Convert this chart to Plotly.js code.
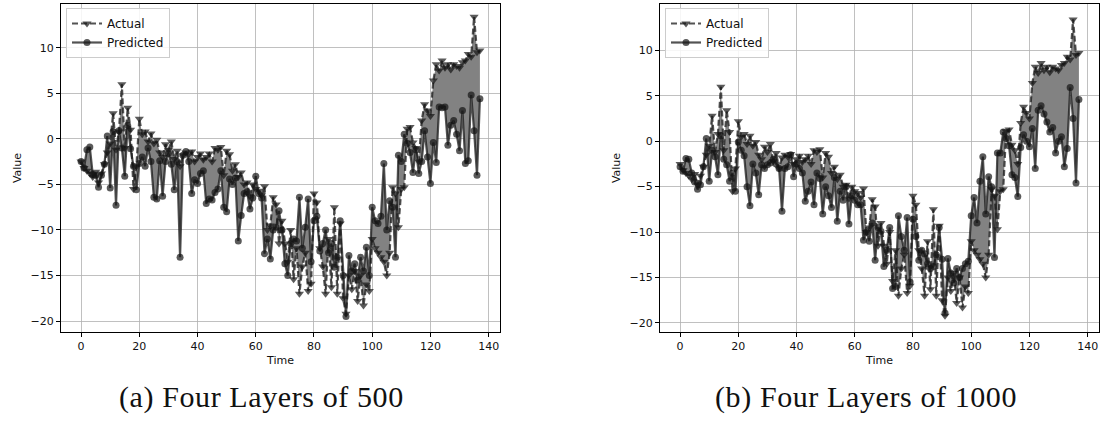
<!DOCTYPE html>
<html>
<head>
<meta charset="utf-8">
<script src="https://cdn.plot.ly/plotly-3.0.1.min.js"></script>
<style>
  html, body { margin: 0; padding: 0; background: #fff; }
  #chart { width: 1104px; height: 431px; }
  .annotation-text { letter-spacing: 0.6px; }
</style>
</head>
<body>
<div id="chart"></div>
<script>
// ---- data ----
const time = Array.from({length: 138}, (_, i) => i);

const actual = [
  -2.5, -3.2, -3.5, -3.8, -4.2, -3.6, -4.8, -3.8, -2.8, -1.5,
  -0.5, 2.8, -1.2, 0.8, 6.0, -1.0, 3.4, 1.0, -5.5, -3.0,
  2.2, 0.5, 0.8, -0.3, 0.6, -0.5, -0.1, -1.5, -2.0, -0.6,
  -1.2, -0.3, -2.2, -1.3, -3.0, -1.8, -1.5, -1.7, -1.4, -2.5,
  -2.0, -1.6, -2.3, -2.0, -1.6, -2.5, -1.0, -1.2, -0.9, -4.0,
  -1.3, -1.7, -3.5, -2.8, -4.2, -3.7, -5.0, -4.8, -6.3, -5.0,
  -5.5, -5.7, -6.2, -5.2, -10.0, -9.5, -6.4, -7.2, -11.5, -9.0,
  -11.5, -13.5, -10.0, -15.4, -12.0, -17.0, -14.0, -12.5, -16.7, -15.9,
  -6.0, -7.0, -12.0, -14.0, -17.0, -11.0, -16.3, -7.5, -17.0, -9.3,
  -17.5, -19.2, -15.0, -16.5, -14.5, -17.8, -15.0, -18.3, -16.0, -16.7,
  -11.0, -12.0, -12.5, -13.0, -13.5, -15.0, -12.5, -5.3, -6.0, -9.7,
  -5.5, -5.3, 1.1, 1.3, -0.4, -1.0, -2.5, 2.0, 3.8, 3.1,
  2.5, 6.4, 8.2, 7.5, 8.6, 7.8, 8.2, 7.6, 8.2, 8.0,
  7.8, 8.4, 8.6, 9.3, 9.0, 13.4, 9.5, 9.7
];

const predicted500 = [
  -2.5, -3.2, -1.2, -0.9, -3.9, -4.0, -5.3, -4.0, -2.8, 0.3,
  -5.4, 0.8, -7.3, 0.9, -1.0, -4.1, 1.5, -1.1, -3.0, -5.6,
  -2.7, -2.0, -3.0, -1.0, -2.5, -6.4, -6.6, -2.4, -6.3, -2.5,
  -1.6, -2.8, -5.6, -2.5, -13.0, -1.8, -1.4, -2.5, -6.0, -4.5,
  -4.9, -3.8, -3.5, -7.1, -6.6, -6.7, -5.9, -5.5, -3.5, -7.5,
  -8.0, -4.4, -5.0, -4.3, -11.2, -8.4, -6.0, -5.8, -7.7, -6.5,
  -4.1, -6.0, -6.5, -12.6, -11.0, -13.2, -10.0, -9.7, -7.9, -10.0,
  -13.7, -15.0, -11.5, -11.0, -11.2, -6.4, -12.0, -9.7, -6.6, -13.5,
  -9.0, -8.5, -12.3, -11.5, -10.0, -12.5, -11.5, -14.1, -13.0, -9.0,
  -15.0, -19.5, -12.8, -14.5, -13.7, -15.5, -13.0, -14.5, -11.9, -15.0,
  -7.5, -9.0, -9.3, -8.5, -2.7, -10.0, -6.8, -7.5, -13.0, -1.8,
  -2.5, 0.5, -0.5, -1.5, -3.7, -1.2, -3.8, -2.5, 0.9, -2.0,
  -4.9, -0.4, -2.6, 3.5, 3.4, 3.5, -0.7, 1.5, 2.0, 0.5,
  -1.3, 3.1, -2.7, -2.4, 4.8, 0.9, -4.0, 4.4
];

const predicted1000 = [
  -2.8, -3.3, -1.9, -2.0, -3.5, -4.5, -5.3, -4.8, -2.8, 0.3,
  -4.4, -1.0, -1.7, -3.7, 0.6, -2.0, -2.6, -4.4, -3.5, -5.5,
  -0.1, -1.0, -1.6, -5.0, -7.1, -2.5, -3.5, -5.9, -2.6, -3.0,
  -2.6, -2.4, -2.0, -2.5, -3.0, -7.7, -3.0, -2.8, -1.5, -3.9,
  -2.5, -3.0, -3.5, -6.6, -5.5, -4.5, -7.0, -3.5, -4.1, -8.0,
  -5.0, -6.0, -7.3, -4.0, -8.8, -5.5, -6.5, -5.0, -9.1, -6.0,
  -6.5, -7.0, -7.0, -10.9, -10.0, -11.0, -9.0, -13.1, -9.5, -9.9,
  -13.8, -12.0, -9.5, -16.2, -16.0, -8.2, -10.5, -12.0, -8.4, -15.5,
  -8.6, -10.5, -13.1, -12.0, -12.4, -13.5, -14.0, -13.8, -12.5, -9.5,
  -13.0, -18.9, -12.9, -14.5, -15.6, -14.0, -15.0, -14.0, -13.5, -13.2,
  -8.2, -6.2, -9.0, -4.4, -1.7, -8.0, -3.9, -5.0, -12.8, -1.3,
  -1.3, 1.0, 0.3, -0.5, -3.7, -4.0, -6.1, -0.7, 0.7, 0.0,
  -0.6, 1.4, -3.0, 3.4, 3.9, 3.0, 2.1, 1.0, 1.5, -1.3,
  0.0, 0.5, -2.8, -0.8, 5.9, 2.5, -4.6, 4.6
];

const seriesNames = ["Actual", "Predicted"];
const captions = ["(a) Four Layers of 500", "(b) Four Layers of 1000"];
const xTitle = "Time";
const yTitle = "Value";

// ---- styles ----
const lineColor = "rgba(25,25,25,0.75)";
const markerColor = "rgba(20,20,20,0.7)";
const fillColor = "#828282";
const font = "DejaVu Sans, sans-serif";

function panel(pred, xa, ya, legendId) {
  return [
    {x: time, y: actual, xaxis: xa, yaxis: ya, mode: "lines", line: {width: 0, color: "rgba(0,0,0,0)"},
     showlegend: false, hoverinfo: "skip"},
    {x: time, y: pred, xaxis: xa, yaxis: ya, mode: "lines", line: {width: 0, color: "rgba(0,0,0,0)"},
     fill: "tonexty", fillcolor: fillColor, showlegend: false, hoverinfo: "skip"},
    {x: time, y: actual, xaxis: xa, yaxis: ya, name: seriesNames[0], legend: legendId,
     mode: "lines+markers",
     line: {color: lineColor, width: 2.2, dash: "6px,3px"},
     marker: {symbol: "triangle-down", size: 8, color: markerColor, line: {width: 0}}},
    {x: time, y: pred, xaxis: xa, yaxis: ya, name: seriesNames[1], legend: legendId,
     mode: "lines+markers",
     line: {color: lineColor, width: 2.2},
     marker: {symbol: "circle", size: 7, color: markerColor, line: {width: 0}}}
  ];
}

const data = [
  ...panel(predicted500, "x", "y", "legend"),
  ...panel(predicted1000, "x2", "y2", "legend2")
];

function xaxisCfg(domain, anchor) {
  return {
    domain: domain, anchor: anchor, range: [-6.9, 143.9],
    tickvals: [0, 20, 40, 60, 80, 100, 120, 140],
    showgrid: true, gridcolor: "#b0b0b0", gridwidth: 0.8,
    zeroline: false, showline: true, linecolor: "#000", linewidth: 1, mirror: true,
    ticks: "outside", ticklen: 4, tickcolor: "#000", tickwidth: 1,
    tickfont: {family: font, size: 11, color: "#111"},
    title: {text: xTitle, font: {family: font, size: 11, color: "#111"}, standoff: 4}
  };
}
function yaxisCfg(domain, anchor, range) {
  return {
    domain: domain, anchor: anchor, range: range,
    tickvals: [-20, -15, -10, -5, 0, 5, 10],
    showgrid: true, gridcolor: "#b0b0b0", gridwidth: 0.8,
    zeroline: false, showline: true, linecolor: "#000", linewidth: 1, mirror: true,
    ticks: "outside", ticklen: 4, tickcolor: "#000", tickwidth: 1,
    tickfont: {family: font, size: 11, color: "#111"},
    title: {text: yTitle, font: {family: font, size: 11, color: "#111"}, standoff: 6}
  };
}

const W = 1104, H = 431;
const yDom = [(H - 332) / H, (H - 4) / H];

const legendCfg = (x) => ({
  x: x, y: (H - 8) / H, xref: "paper", yref: "paper", xanchor: "left", yanchor: "top",
  bgcolor: "rgba(255,255,255,0.85)", bordercolor: "#cccccc", borderwidth: 1,
  font: {family: font, size: 12, color: "#111"}, itemwidth: 30, tracegroupgap: 0,
  traceorder: "normal"
});

const capFont = {family: "Liberation Serif, serif", size: 30, color: "#111"};

const layout = {
  width: W, height: H,
  margin: {l: 0, r: 0, t: 0, b: 0},
  paper_bgcolor: "#fff", plot_bgcolor: "#fff",
  font: {family: font},
  xaxis: xaxisCfg([61 / W, 500 / W], "y"),
  yaxis: yaxisCfg(yDom, "x", [-21.2, 14.8]),
  xaxis2: xaxisCfg([660 / W, 1099 / W], "y2"),
  yaxis2: yaxisCfg(yDom, "x2", [-21.0, 15.1]),
  legend: legendCfg(66 / W),
  legend2: legendCfg(665 / W),
  annotations: [
    {text: captions[0], xref: "paper", yref: "paper", x: 261 / W, y: (H - 397) / H,
     xanchor: "center", yanchor: "middle", showarrow: false, font: capFont},
    {text: captions[1], xref: "paper", yref: "paper", x: 866 / W, y: (H - 397) / H,
     xanchor: "center", yanchor: "middle", showarrow: false, font: capFont}
  ]
};

Plotly.newPlot("chart", data, layout, {staticPlot: true, displayModeBar: false});
</script>
</body>
</html>
